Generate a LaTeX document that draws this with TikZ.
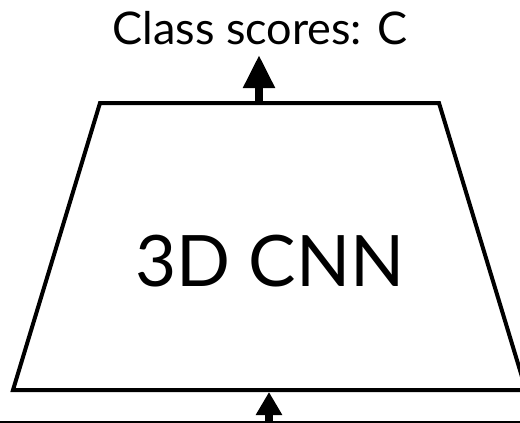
\documentclass[tikz,border=0pt]{standalone}
\usepackage{fontspec}
\setmainfont{Lato}
\usetikzlibrary{arrows.meta}
\begin{document}
\begin{tikzpicture}[x=1pt,y=-1pt,
  edge/.style={line width=4pt,line join=miter,black},
  uparrow/.style={line width=8pt,-{Triangle[length=33pt,width=30pt]}},
  uparrowb/.style={line width=8pt,-{Triangle[length=23pt,width=25pt]}},
  lbl/.style={inner sep=0pt,anchor=base}]
\useasboundingbox (0,0) rectangle (520,423);
\clip (0,0) rectangle (520,423);
\coordinate (tl) at (100,103);
\coordinate (tr) at (439,103);
\coordinate (br) at (526,390);
\coordinate (bl) at (13,390);
\draw[edge] (tl) -- (tr) -- (br) -- (bl) -- cycle;
\node[lbl,font=\fontsize{71}{71}\selectfont] (cnn) at (270,286) {3D CNN};
\node[lbl,font=\fontsize{45}{45}\selectfont] (out) at (260,45) {Class scores: C};
\draw[line width=6pt] (-5,423.5) coordinate (base) -- (525,423.5);
\coordinate (topmid) at (259,103);
\coordinate (toptip) at (259,55);
\coordinate (botstart) at (269,424);
\coordinate (bottip) at (269,392);
\draw[uparrow] (topmid) -- (toptip);
\draw[uparrowb] (botstart) -- (bottip);
\end{tikzpicture}
\end{document}
